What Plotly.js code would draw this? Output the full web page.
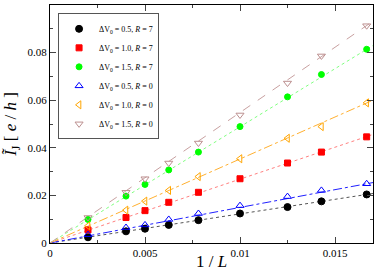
<!DOCTYPE html>
<html><head><meta charset="utf-8">
<script src="https://cdn.plot.ly/plotly-3.0.1.min.js"></script>
<style>html,body{margin:0;padding:0;background:#fff}#c{width:374px;height:271px}</style>
</head><body><div id="c"></div>
<script>
var invL = [0.002, 0.004, 0.005, 0.00625, 0.0078125, 0.01, 0.0125, 0.0142857, 0.0166667];
var names = ["ΔV<sub>0</sub> = 0.5, <i>R</i> = 7", "ΔV<sub>0</sub> = 1.0, <i>R</i> = 7", "ΔV<sub>0</sub> = 1.5, <i>R</i> = 7",
             "ΔV<sub>0</sub> = 0.5, <i>R</i> = 0", "ΔV<sub>0</sub> = 1.0, <i>R</i> = 0", "ΔV<sub>0</sub> = 1.5, <i>R</i> = 0"];
var dV05R7 = [0.0024, 0.0049, 0.0060, 0.0076, 0.0096, 0.0124, 0.0151, 0.0175, 0.0204];
var dV10R7 = [0.0055, 0.0107, 0.0136, 0.0171, 0.0213, 0.0270, 0.0336, 0.0382, 0.0446];
var dV15R7 = [0.0099, 0.0197, 0.0246, 0.0307, 0.0382, 0.0489, 0.0614, 0.0708, 0.0814];
var dV05R0 = [0.0035, 0.0065, 0.0076, 0.0099, 0.0124, 0.0157, 0.0195, 0.0221, 0.0249];
var dV10R0 = [0.0072, 0.0138, 0.0176, 0.0221, 0.0279, 0.0354, 0.0440, 0.0489, 0.0589];
var dV15R0 = [0.0107, 0.0213, 0.0270, 0.0336, 0.0420, 0.0538, 0.0672, 0.0786, 0.0913];
var fitX = [0, 0.017];
var fit05R7 = [0, 0.0208];
var fit10R7 = [0, 0.0456];
var fit15R7 = [0, 0.0830];
var fit05R0 = [0, 0.0254];
var fit10R0 = [0, 0.0600];
var fit15R0 = [0, 0.0932];
var xTicks = [0, 0.005, 0.01, 0.015];
var xTickText = ["0", "0.005", "0.01", "0.015"];
var yTicks = [0, 0.02, 0.04, 0.06, 0.08, 0.1];
var yTickText = ["0", "0.02", "0.04", "0.06", "0.08", "0.1"];

var series = [dV05R7, dV10R7, dV15R7, dV05R0, dV10R0, dV15R0];
var fits = [fit05R7, fit10R7, fit15R7, fit05R0, fit10R0, fit15R0];
var mColor = ["#000000", "#ff0000", "#00ff00", "#0000ff", "#ffa500", "#bc8f8f"];
var lColor = ["#555555", "#ff8080", "#80ff80", "#2020ff", "#ffb030", "#c8a0a0"];
var lDash = ["dot", "dot", "dot", "dashdot", "dashdot", "dash"];
var sym = ["circle", "square", "circle", "triangle-up-open", "triangle-left-open", "triangle-down-open"];
var msz = [7, 6, 6, 7, 7, 7];

var traces = [];
for (var i = 0; i < 6; i++) {
  traces.push({x: fitX, y: fits[i], mode: "lines", showlegend: false, hoverinfo: "skip",
    line: {color: lColor[i], width: 1, dash: lDash[i]}});
}
for (var i = 0; i < 6; i++) {
  traces.push({x: invL, y: series[i], mode: "markers", name: names[i],
    marker: {symbol: sym[i], size: msz[i], color: mColor[i], line: {color: mColor[i], width: 1}}});
}
var axFont = {family: "Liberation Serif, serif", size: 11, color: "#000"};
var layout = {
  width: 374, height: 271,
  margin: {l: 50, r: 1, t: 5, b: 28},
  paper_bgcolor: "#fff", plot_bgcolor: "#fff",
  showlegend: true,
  legend: {x: 0.025, y: 0.965, xanchor: "left", yanchor: "top", bgcolor: "#fff",
    bordercolor: "#555", borderwidth: 1, font: {family: "Liberation Serif, serif", size: 8, color: "#000"},
    tracegroupgap: 0, itemwidth: 30},
  xaxis: {range: [0, 0.017], tickvals: xTicks, ticktext: xTickText, ticks: "inside", ticklen: 6,
    showgrid: false, zeroline: false, showline: true, linecolor: "#000", linewidth: 1, mirror: "allticks",
    tickfont: axFont, minor: {dtick: 0.0025, tick0: 0, ticks: "inside", ticklen: 3, showgrid: false},
    title: {text: "1 / <i>L</i>", font: {family: "Liberation Serif, serif", size: 17, color: "#000"}, standoff: 4}},
  yaxis: {range: [0, 0.1], tickvals: yTicks, ticktext: yTickText, ticks: "inside", ticklen: 6,
    showgrid: false, zeroline: false, showline: true, linecolor: "#000", linewidth: 1, mirror: "allticks",
    tickfont: axFont, minor: {dtick: 0.01, tick0: 0, ticks: "inside", ticklen: 3, showgrid: false},
    title: {text: "<i>Ĩ</i><sub>J</sub> [ <i>e</i> / <i>h</i> ]", font: {family: "Liberation Serif, serif", size: 17, color: "#000"}, standoff: 6}}
};
Plotly.newPlot("c", traces, layout, {staticPlot: true, displayModeBar: false});
</script></body></html>
